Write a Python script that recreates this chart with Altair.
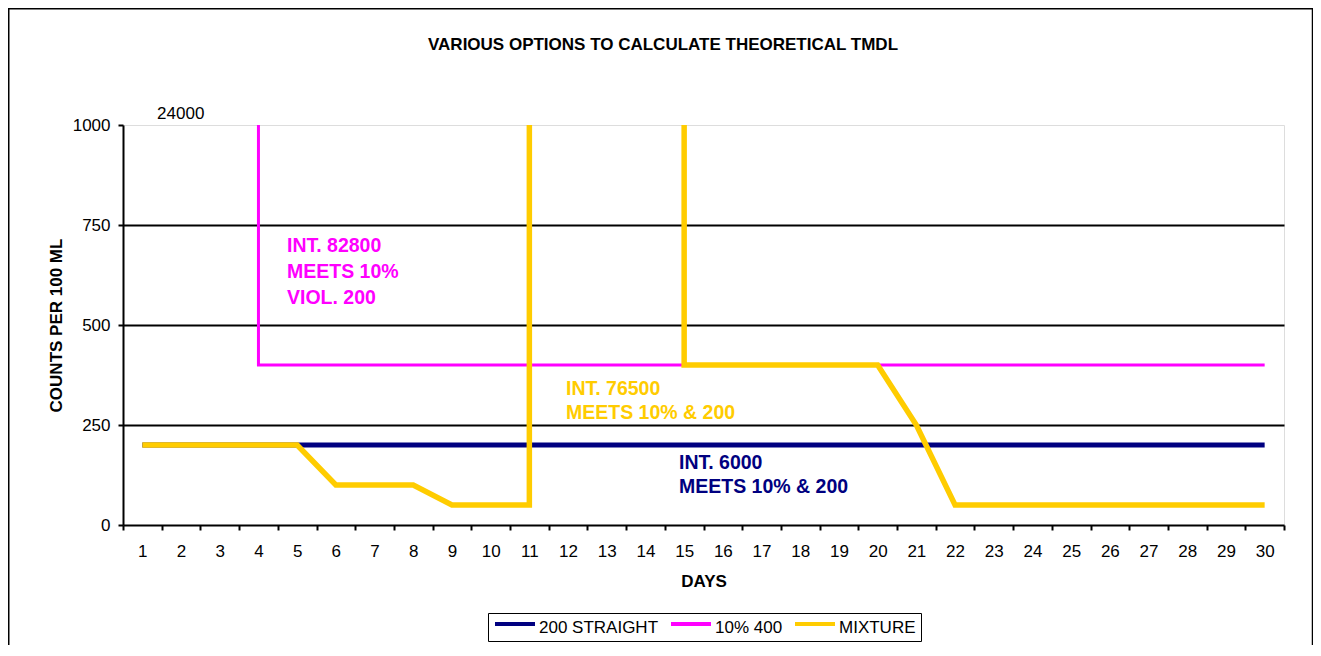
import altair as alt
import pandas as pd

# ---- data ----
SERIES = ["200 STRAIGHT", "10% 400", "MIXTURE"]
COLORS = ["#000080", "#FF00FF", "#FFCC00"]

STRAIGHT_DAYS = [1, 2, 3, 4, 5, 6, 7, 8, 9, 10, 11, 12, 13, 14, 15,
                 16, 17, 18, 19, 20, 21, 22, 23, 24, 25, 26, 27, 28, 29, 30]
STRAIGHT_VALUES = [200, 200, 200, 200, 200, 200, 200, 200, 200, 200,
                   200, 200, 200, 200, 200, 200, 200, 200, 200, 200,
                   200, 200, 200, 200, 200, 200, 200, 200, 200, 200]

TEN_DAYS = [1, 2, 3, 4, 4, 5, 6, 7, 8, 9, 10, 11, 12, 13, 14, 15,
            16, 17, 18, 19, 20, 21, 22, 23, 24, 25, 26, 27, 28, 29, 30]
TEN_VALUES = [24000, 24000, 24000, 24000, 400, 400, 400, 400, 400, 400,
              400, 400, 400, 400, 400, 400, 400, 400, 400, 400, 400,
              400, 400, 400, 400, 400, 400, 400, 400, 400, 400]

MIX_DAYS = [1, 2, 3, 4, 5, 6, 7, 8, 9, 10, 11, 11, 12, 13, 14, 15, 15,
            16, 17, 18, 19, 20, 21, 22, 23, 24, 25, 26, 27, 28, 29, 30]
MIX_VALUES = [200, 200, 200, 200, 200, 100, 100, 100, 50, 50, 50,
              24000, 24000, 24000, 24000, 24000, 400,
              400, 400, 400, 400, 400, 250, 50, 50, 50, 50, 50, 50, 50, 50, 50]

Y_TICKS = [0, 250, 500, 750, 1000]

rows = []
for name, days, vals in [(SERIES[0], STRAIGHT_DAYS, STRAIGHT_VALUES),
                         (SERIES[1], TEN_DAYS, TEN_VALUES),
                         (SERIES[2], MIX_DAYS, MIX_VALUES)]:
    for i, (d, v) in enumerate(zip(days, vals)):
        rows.append({"series": name, "day": d, "value": v, "i": i})
df = pd.DataFrame(rows)

FONT = "Liberation Sans"
W, H = 1161, 400

x_enc = alt.X(
    "day:Q",
    scale=alt.Scale(domain=[0.5, 30.5], nice=False, zero=False),
    axis=alt.Axis(
        values=[k / 2 for k in range(1, 62)],
        labelExpr="datum.value % 1 === 0 ? format(datum.value, 'd') : ''",
        tickOpacity={"condition": {"test": "datum.value % 1 === 0", "value": 0}, "value": 1},
        labelOverlap=False, labelBound=False, labelFlush=False,
        labelFontSize=17, labelColor="black", labelFont=FONT, labelPadding=13,
        tickSize=5, tickWidth=2, tickColor="black",
        domainColor="black", domainWidth=2, grid=False,
        title="DAYS", titleFontSize=17, titleFontWeight="bold", titleColor="black",
        titleFont=FONT, titlePadding=14,
    ),
)
y_enc = alt.Y(
    "value:Q",
    scale=alt.Scale(domain=[0, 1000], nice=False, zero=True),
    axis=alt.Axis(
        values=Y_TICKS, format="d",
        labelFontSize=17, labelColor="black", labelFont=FONT, labelPadding=8,
        tickSize=5, tickWidth=2, tickColor="black",
        domainColor="black", domainWidth=2,
        grid=True, gridColor="black", gridWidth=2,
        gridOpacity={"condition": {"test": "datum.value === 1000 || datum.value === 0", "value": 0}, "value": 1},
        title="COUNTS PER 100 ML", titleFontSize=17, titleFontWeight="bold", titleColor="black",
        titleFont=FONT, titleAngle=270, titleBaseline="alphabetic", titleX=-61.5, titleY=200,
        titleAlign="center",
    ),
)
color_enc = alt.Color(
    "series:N",
    scale=alt.Scale(domain=SERIES, range=COLORS),
    legend=alt.Legend(
        title=None, orient="none", legendX=365, legendY=488, direction="horizontal",
        strokeColor="black", padding=5, fillColor="white",
        symbolType="M-2.5,-0.5H2.5", symbolSize=256, symbolStrokeWidth=4,
        symbolOffset=12, labelOffset=14, columnPadding=4,
        labelFontSize=17, labelFont=FONT, labelColor="black", labelBaseline="middle",
        labelLimit=300,
    ),
)

base = alt.Chart(df)
widths = [5, 3, 5.5]
line_layers = [
    base.transform_filter(alt.datum.series == name)
    .mark_line(clip=True, strokeWidth=w)
    .encode(x=x_enc, y=y_enc, color=color_enc, order="i:Q")
    for name, w in zip(SERIES, widths)
]


def note(text, x, y, color, size=19.5, weight="bold", align="left"):
    return alt.Chart(pd.DataFrame({"t": [text]})).mark_text(
        align=align, baseline="alphabetic", fontSize=size, fontWeight=weight,
        font=FONT, color=color,
    ).encode(text="t:N", x=alt.value(x), y=alt.value(y))


notes = [
    note("VARIOUS OPTIONS TO CALCULATE THEORETICAL TMDL", 540, -75, "black", 17, "bold", "center"),
    note("24000", 57.7, -5.7, "black", 17, "normal", "center"),
    note("INT. 82800", 164, 127, "#FF00FF"),
    note("MEETS 10%", 164, 153, "#FF00FF"),
    note("VIOL. 200", 164, 179, "#FF00FF"),
    note("INT. 76500", 443, 270, "#FFCC00"),
    note("MEETS 10% & 200", 443, 294, "#FFCC00"),
    note("INT. 6000", 556, 344, "#000080"),
    note("MEETS 10% & 200", 556, 368, "#000080"),
]

frame = alt.Chart(pd.DataFrame({"k": [0]})).mark_rect(
    filled=False, stroke="black", strokeWidth=1.5, clip=False
).encode(
    x=alt.value(-114.25), x2=alt.value(1189.5),
    y=alt.value(-116.25), y2=alt.value(560),
)

chart = alt.layer(frame, *line_layers, *notes).properties(
    width=W, height=H,
    autosize=alt.AutoSizeParams(type="none"),
    padding={"left": 115, "top": 117, "right": 29, "bottom": 120},
).configure_view(
    stroke="#808080", strokeWidth=2
).configure_legend(
    strokeWidth=2
).configure(font=FONT)

chart.save("out.html", embed_options={"renderer": "svg", "actions": False})
